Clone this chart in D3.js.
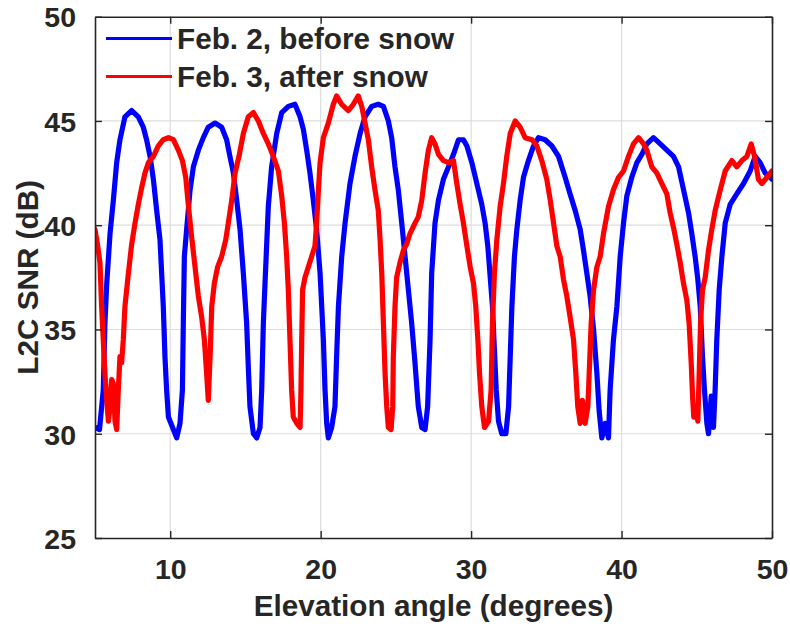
<!DOCTYPE html>
<html>
<head>
<meta charset="utf-8">
<script src="https://cdn.jsdelivr.net/npm/d3@7"></script>
<style>
  html, body { margin: 0; padding: 0; background: #fff; }
  svg { display: block; }
  text { font-family: "Liberation Sans", Arial, Helvetica, sans-serif; font-weight: bold; fill: #262626; }
</style>
</head>
<body>
<svg id="chart" width="790" height="626"></svg>
<script>
// ---- Data ----
const xTicks = [10, 20, 30, 40, 50];
const yTicks = [25, 30, 35, 40, 45, 50];
const seriesNames = ["Feb. 2, before snow", "Feb. 3, after snow"];
const seriesColors = ["#0000ff", "#ff0000"];

// Feb. 2, before snow
const blueX = [5.0,5.3,5.55,5.66,5.78,6.0,6.22,6.44,6.66,6.99,7.44,7.88,8.21,8.43,8.66,8.88,9.10,9.32,9.43,9.54,9.65,9.76,9.88,10.21,10.43,10.65,10.81,10.87,10.94,11.09,11.32,11.54,11.87,12.20,12.53,12.98,13.42,13.75,13.97,14.20,14.42,14.64,14.86,15.08,15.19,15.30,15.53,15.75,15.97,16.08,16.19,16.30,16.52,16.74,17.08,17.41,17.85,18.29,18.63,18.85,19.07,19.29,19.51,19.73,19.96,20.07,20.18,20.29,20.40,20.51,20.73,20.95,21.06,21.18,21.40,21.62,21.95,22.28,22.62,22.95,23.39,23.83,24.17,24.50,24.72,24.94,25.16,25.39,25.61,25.83,26.05,26.27,26.49,26.72,26.94,27.11,27.27,27.38,27.60,27.83,28.16,28.50,28.83,29.16,29.49,29.72,30.05,30.38,30.71,30.93,31.11,31.27,31.42,31.55,31.67,31.82,32.04,32.31,32.49,32.60,32.71,32.88,33.04,33.26,33.48,33.81,34.15,34.48,34.92,35.37,35.81,36.25,36.58,36.92,37.25,37.47,37.69,37.91,38.14,38.36,38.51,38.69,38.91,39.13,39.24,39.46,39.69,39.91,40.13,40.35,40.68,41.02,41.35,41.68,42.12,42.57,43.01,43.45,43.79,44.12,44.45,44.67,44.89,45.07,45.23,45.38,45.51,45.67,45.78,45.96,46.11,46.22,46.33,46.49,46.67,46.89,47.22,47.66,48.11,48.55,48.88,49.21,49.55,49.88,50.0];
const blueY = [30.3,30.2,32.1,35.3,37.2,39.6,41.2,43.0,44.1,45.2,45.5,45.2,44.7,44.1,43.3,42.2,40.7,39.3,37.7,36.1,33.7,32.1,30.8,30.2,29.8,30.5,32.1,35.3,38.5,39.8,41.7,42.8,43.6,44.2,44.7,44.9,44.7,44.1,43.3,42.5,41.2,39.8,37.7,35.3,33.2,31.3,30.0,29.8,30.3,32.1,35.3,37.2,40.9,42.8,44.4,45.4,45.7,45.8,45.2,44.6,43.6,42.5,41.2,39.8,37.7,36.1,34.5,32.1,30.5,29.8,30.3,31.3,33.7,36.1,38.5,40.1,42.0,43.3,44.4,45.2,45.7,45.8,45.7,45.0,44.2,42.8,41.7,40.1,38.5,36.9,35.3,33.4,31.3,30.3,30.2,31.3,34.5,37.7,40.1,41.2,42.2,42.8,43.4,44.1,44.1,43.8,43.0,42.0,41.0,40.1,39.0,37.5,36.1,34.0,32.1,30.6,30.0,30.0,31.3,33.7,36.1,38.5,39.8,41.2,42.3,43.1,43.8,44.2,44.1,43.8,43.3,42.3,41.5,40.7,39.8,38.8,37.7,36.6,35.0,32.9,31.1,29.8,30.5,29.8,32.1,34.5,36.1,38.5,40.1,41.4,42.3,43.0,43.4,43.9,44.2,43.9,43.6,43.3,42.8,41.7,40.6,39.6,38.5,37.4,36.1,33.7,32.1,30.5,30.0,31.8,30.3,32.1,34.5,36.9,38.5,40.1,41.0,41.5,42.0,42.6,43.3,43.0,42.5,42.3,42.2];

// Feb. 3, after snow
const redX = [5.0,5.18,5.33,5.44,5.55,5.66,5.78,5.89,6.0,6.11,6.22,6.33,6.44,6.55,6.66,6.77,6.88,6.99,7.22,7.44,7.66,7.88,8.10,8.32,8.55,8.88,9.21,9.54,9.88,10.21,10.54,10.81,11.03,11.20,11.43,11.65,11.87,12.09,12.27,12.42,12.53,12.65,12.76,12.93,13.15,13.42,13.69,13.86,14.09,14.31,14.57,14.86,15.19,15.53,15.86,16.19,16.52,16.85,17.19,17.41,17.59,17.74,17.85,17.96,18.07,18.18,18.41,18.63,18.69,18.74,18.80,18.96,19.18,19.40,19.62,19.73,19.85,19.96,20.18,20.51,20.84,21.06,21.40,21.84,22.17,22.50,22.73,22.95,23.17,23.39,23.61,23.83,23.95,24.06,24.17,24.28,24.39,24.50,24.68,24.79,24.83,24.94,25.05,25.27,25.50,25.72,25.94,26.27,26.49,26.72,26.94,27.16,27.38,27.60,27.83,28.16,28.50,28.83,29.05,29.27,29.49,29.72,29.94,30.16,30.31,30.45,30.56,30.71,30.89,31.16,31.33,31.42,31.55,31.71,31.93,32.15,32.37,32.60,32.93,33.26,33.59,34.04,34.37,34.70,35.03,35.26,35.48,35.70,35.92,36.14,36.36,36.58,36.81,36.96,37.09,37.25,37.40,37.58,37.76,37.85,37.98,38.14,38.36,38.58,38.80,39.13,39.46,39.80,40.13,40.46,40.79,41.13,41.46,41.68,42.01,42.35,42.68,43.01,43.23,43.45,43.67,43.90,44.12,44.34,44.49,44.63,44.72,44.80,44.94,45.07,45.16,45.25,45.38,45.56,45.78,46.00,46.22,46.56,46.89,47.33,47.66,48.00,48.33,48.62,48.84,49.10,49.33,49.66,50.0];
const redY = [39.8,39.0,38.2,36.1,34.5,32.9,31.6,30.6,31.3,32.6,32.4,30.6,30.2,32.1,33.7,33.4,34.5,36.1,37.7,39.1,40.1,41.0,41.8,42.5,43.0,43.3,43.8,44.1,44.2,44.1,43.6,43.1,42.3,41.0,39.4,38.0,36.6,35.6,34.5,32.9,31.6,33.7,36.1,37.2,38.0,38.5,39.3,40.1,41.2,42.5,43.3,44.4,45.2,45.4,45.0,44.4,43.9,43.3,42.6,41.4,40.1,38.5,36.9,34.5,32.1,30.8,30.5,30.3,32.1,34.5,36.9,37.5,38.0,38.5,39.0,40.1,41.7,43.0,44.2,44.9,45.8,46.2,45.8,45.5,45.8,46.2,45.7,44.9,44.1,42.8,41.7,40.7,39.3,37.7,35.3,32.9,31.3,30.3,30.2,31.3,33.7,36.1,37.5,38.2,38.8,39.1,39.6,40.1,40.4,41.2,42.5,43.6,44.2,43.9,43.4,43.1,43.0,43.1,42.0,41.0,40.1,39.0,38.0,37.2,36.1,34.5,32.9,31.3,30.3,30.6,32.1,35.3,37.7,39.3,40.9,42.0,43.3,44.4,45.0,44.7,44.2,44.1,43.8,43.1,42.2,41.2,40.1,39.0,38.5,37.4,36.6,35.6,34.5,32.9,31.3,30.5,31.6,30.5,31.3,32.9,35.3,36.9,38.0,38.5,39.6,40.9,41.7,42.3,42.6,43.3,43.9,44.2,43.9,43.6,42.8,42.5,42.0,41.5,40.6,39.9,39.1,38.2,37.2,36.4,35.3,33.4,31.8,30.8,31.3,30.6,32.9,35.3,36.9,37.5,38.8,39.8,40.7,41.7,42.6,43.1,42.8,43.1,43.3,43.9,43.3,42.2,42.0,42.3,42.6];

// ---- Layout ----
const svg = d3.select("#chart");
const plot = { left: 95, top: 16.7, right: 772, bottom: 538 };
const x = d3.scaleLinear().domain([5, 50]).range([plot.left, plot.right]);
const y = d3.scaleLinear().domain([25, 50]).range([plot.bottom, plot.top]);
const axisColor = "#262626";
const fs = 28.5;
const labelFs = 29.7;

// grid
const grid = svg.append("g");
grid.selectAll(".gx").data(xTicks.filter(d => d < 50)).join("line")
  .attr("x1", d => x(d)).attr("x2", d => x(d))
  .attr("y1", plot.top).attr("y2", plot.bottom)
  .attr("stroke", "#dcdcdc").attr("stroke-width", 1.2);
grid.selectAll(".gy").data(yTicks.filter(d => d > 25 && d < 50)).join("line")
  .attr("y1", d => y(d)).attr("y2", d => y(d))
  .attr("x1", plot.left).attr("x2", plot.right)
  .attr("stroke", "#dcdcdc").attr("stroke-width", 1.2);

// clip
svg.append("clipPath").attr("id", "clip").append("rect")
  .attr("x", plot.left).attr("y", plot.top)
  .attr("width", plot.right - plot.left).attr("height", plot.bottom - plot.top);

const line = d3.line().x(d => x(d[0])).y(d => y(d[1]));
const series = [
  blueX.map((v, i) => [v, blueY[i]]),
  redX.map((v, i) => [v, redY[i]])
];
const lines = svg.append("g").attr("clip-path", "url(#clip)");
series.forEach((s, i) => {
  lines.append("path").datum(s)
    .attr("d", line)
    .attr("fill", "none")
    .attr("stroke", seriesColors[i])
    .attr("stroke-width", 5.2)
    .attr("stroke-linejoin", "round")
    .attr("stroke-linecap", "round");
});

// axes (box with inward ticks)
const tickLen = 7;
const axes = svg.append("g");
const xAxisB = d3.axisBottom(x).tickValues(xTicks).tickSizeInner(-tickLen).tickSizeOuter(0).tickPadding(20).tickFormat(d3.format("d"));
const xAxisT = d3.axisTop(x).tickValues(xTicks).tickSizeInner(-tickLen).tickSizeOuter(0).tickFormat("");
const yAxisL = d3.axisLeft(y).tickValues(yTicks).tickSizeInner(-tickLen).tickSizeOuter(0).tickPadding(19).tickFormat(d3.format("d"));
const yAxisR = d3.axisRight(y).tickValues(yTicks).tickSizeInner(-tickLen).tickSizeOuter(0).tickFormat("");

const gB = axes.append("g").attr("transform", `translate(0,${plot.bottom})`).call(xAxisB);
const gT = axes.append("g").attr("transform", `translate(0,${plot.top})`).call(xAxisT);
const gL = axes.append("g").attr("transform", `translate(${plot.left},0)`).call(yAxisL);
const gR = axes.append("g").attr("transform", `translate(${plot.right},0)`).call(yAxisR);
[gB, gT, gL, gR].forEach(g => {
  g.select(".domain").attr("stroke", axisColor).attr("stroke-width", 1.6);
  g.selectAll(".tick line").attr("stroke", axisColor).attr("stroke-width", 1.4);
  g.selectAll("text").attr("font-size", fs).attr("font-family", null).attr("fill", axisColor);
});
gB.selectAll(".tick text").attr("dy", "0.72em");
gL.selectAll(".tick text").attr("dy", "0.36em");

// axis labels
svg.append("text")
  .attr("x", (plot.left + plot.right) / 2).attr("y", 616)
  .attr("text-anchor", "middle").attr("font-size", labelFs)
  .text("Elevation angle (degrees)");
svg.append("text")
  .attr("transform", `translate(38,${(plot.top + plot.bottom) / 2}) rotate(-90)`)
  .attr("text-anchor", "middle").attr("font-size", labelFs)
  .text("L2C SNR (dB)");

// legend
const legend = svg.append("g");
const legY = [38.5, 76.5];
seriesNames.forEach((name, i) => {
  legend.append("line")
    .attr("x1", 106).attr("x2", 172)
    .attr("y1", legY[i]).attr("y2", legY[i])
    .attr("stroke", seriesColors[i]).attr("stroke-width", 3);
  legend.append("text")
    .attr("x", 177).attr("y", legY[i]).attr("dy", "0.36em")
    .attr("font-size", labelFs).attr("fill", "#000")
    .text(name);
});
</script>
</body>
</html>
